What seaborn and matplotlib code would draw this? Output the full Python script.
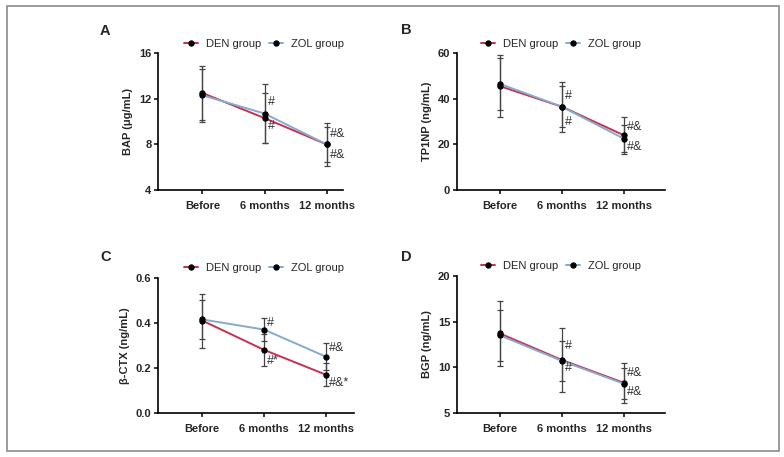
import numpy as np
import pandas as pd
import matplotlib
matplotlib.use("Agg")
import matplotlib.pyplot as plt
import seaborn as sns
from matplotlib.patches import Rectangle

sns.set_style("ticks")
plt.rcParams["font.family"] = ["Liberation Sans", "DejaVu Sans"]

timepoints = ["Before", "6 months", "12 months"]
groups = ["DEN group", "ZOL group"]

# Panel A: BAP
bap_den = [12.5, 10.3, 8.0]
bap_den_sd = [2.4, 2.2, 1.9]
bap_zol = [12.3, 10.7, 8.0]
bap_zol_sd = [2.3, 2.6, 1.5]

# Panel B: TP1NP
tp_den = [45.5, 36.5, 24.0]
tp_den_sd = [13.5, 11.0, 8.0]
tp_zol = [46.5, 36.5, 22.5]
tp_zol_sd = [11.5, 9.0, 6.0]

# Panel C: beta-CTX
ctx_den = [0.41, 0.28, 0.17]
ctx_den_sd = [0.12, 0.07, 0.05]
ctx_zol = [0.415, 0.37, 0.25]
ctx_zol_sd = [0.085, 0.05, 0.06]

# Panel D: BGP
bgp_den = [13.7, 10.8, 8.3]
bgp_den_sd = [3.6, 3.5, 2.2]
bgp_zol = [13.5, 10.7, 8.2]
bgp_zol_sd = [2.8, 2.2, 1.7]

# annotations: (time index, y, text)
ann_A = [(1, 11.7, "#"), (1, 9.6, "#"), (2, 8.9, "#&"), (2, 7.1, "#&")]
ann_B = [(1, 41.0, "#"), (1, 30.0, "#"), (2, 27.5, "#&"), (2, 19.0, "#&")]
ann_C = [(1, 0.40, "#"), (1, 0.23, "#*"), (2, 0.29, "#&"), (2, 0.135, "#&*")]
ann_D = [(1, 12.3, "#"), (1, 9.9, "#"), (2, 9.4, "#&"), (2, 7.3, "#&")]

colors = {"DEN group": "#c8304f", "ZOL group": "#86a9d0"}

panels = [
    ("A", "BAP (μg/mL)", bap_den, bap_den_sd, bap_zol, bap_zol_sd, (4, 16), [4, 8, 12, 16], ann_A,
     [0.202, 0.584, 0.236, 0.300], (-0.71, 2.27), None, 0.57, (100, 31)),
    ("B", "TP1NP (ng/mL)", tp_den, tp_den_sd, tp_zol, tp_zol_sd, (0, 60), [0, 20, 40, 60], ann_B,
     [0.583, 0.584, 0.265, 0.300], (-0.69, 2.66), None, 0.50, (401, 30)),
    ("C", "β-CTX (ng/mL)", ctx_den, ctx_den_sd, ctx_zol, ctx_zol_sd, (0, 0.6), [0.0, 0.2, 0.4, 0.6], ann_C,
     [0.202, 0.0963, 0.249, 0.296], (-0.71, 2.45), "%.1f", 0.54, (100, 257)),
    ("D", "BGP (ng/mL)", bgp_den, bgp_den_sd, bgp_zol, bgp_zol_sd, (5, 20), [5, 10, 15, 20], ann_D,
     [0.583, 0.0963, 0.265, 0.300], (-0.69, 2.66), None, 0.50, (401, 257)),
]

fig = plt.figure(figsize=(7.84, 4.57), dpi=100)
fig.patches.append(Rectangle((7 / 784, 6 / 457), 772 / 784, 445 / 457, transform=fig.transFigure,
                             fill=False, edgecolor="#8a8a8a", linewidth=1.2))

for (letter, ylabel, den, den_sd, zol, zol_sd, ylim, yticks, ann, pos, xlim, fmt,
     legx, letpos) in panels:
    ax = fig.add_axes(pos)
    df = pd.DataFrame({
        "time": timepoints * 2,
        "value": list(den) + list(zol),
        "group": [groups[0]] * 3 + [groups[1]] * 3,
    })
    for g, vals, sds in [(groups[1], zol, zol_sd), (groups[0], den, den_sd)]:
        ax.errorbar(range(3), vals, yerr=sds, fmt="none", ecolor="#444444",
                    elinewidth=0.9, capsize=2.0, capthick=0.9, zorder=2)
    sns.lineplot(data=df, x="time", y="value", hue="group", palette=colors,
                 marker="o", markersize=3.8, markerfacecolor="black", markeredgecolor="black",
                 linewidth=1.4, ax=ax, sort=False, zorder=3)
    ax.set_xlim(*xlim)
    ax.set_ylim(*ylim)
    ax.set_yticks(yticks)
    if fmt:
        ax.set_yticklabels([fmt % t for t in yticks])
    ax.set_xlabel("")
    ax.set_ylabel(ylabel, fontsize=8, fontweight="bold", labelpad=4)
    for lab in ax.get_xticklabels() + ax.get_yticklabels():
        lab.set_fontweight("bold")
        lab.set_fontsize(8)
    ax.tick_params(axis="both", length=3, width=1.1, pad=2, color="black")
    ax.tick_params(axis="x", pad=5)
    sns.despine(ax=ax)
    for s in ["left", "bottom"]:
        ax.spines[s].set_linewidth(1.2)
        ax.spines[s].set_color("black")
    for xi, yv, txt in ann:
        ax.text(xi + 0.05, yv, txt, fontsize=9, color="#333333", va="center", ha="left")
    h = ax.get_legend_handles_labels()[0]
    ax.legend(handles=h, labels=groups, loc="center",
              bbox_to_anchor=(legx, 1 + 9.5 / 137), ncol=2, frameon=False, fontsize=8,
              handlelength=1.3, columnspacing=0.7, handletextpad=0.7, borderaxespad=0,
              borderpad=0)
    fig.text(letpos[0] / 784, 1 - letpos[1] / 457, letter, fontsize=10.5, fontweight="bold",
             va="center", ha="left")

fig.savefig("out.png", dpi=100)
